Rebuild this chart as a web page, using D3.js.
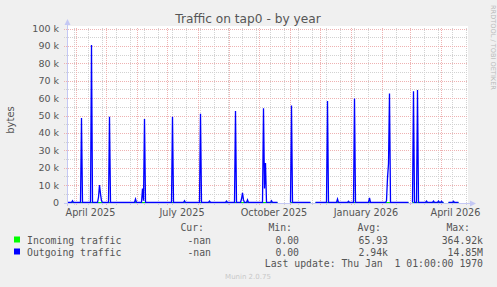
<!DOCTYPE html>
<meta charset="utf-8">
<script src="https://d3js.org/d3.v7.min.js"></script>
<style>
  body { margin: 0; background: #f0f0f0; }
  text { font-family: "DejaVu Sans", sans-serif; fill: #555; }
  .mono { font-family: "DejaVu Sans Mono", monospace; white-space: pre; }
</style>
<div id="chart"></div>
<script>
// outgoing traffic (bytes), one vertex per listed day, null = no data
var outDates = ["2025-03-24","2025-03-28","2025-03-29","2025-03-30","2025-04-06","2025-04-07","2025-04-08",
  "2025-04-16","2025-04-17","2025-04-18","2025-04-23","2025-04-24","2025-04-25","2025-04-26","2025-04-27","2025-04-28",
  "2025-05-04","2025-05-05","2025-05-06","2025-05-30","2025-05-31","2025-06-01",
  "2025-06-06","2025-06-07","2025-06-08","2025-06-09","2025-06-10","2025-07-06","2025-07-07","2025-07-08",
  "2025-07-18","2025-07-19","2025-07-20","2025-08-03","2025-08-04","2025-08-05","2025-08-12","2025-08-13","2025-08-14",
  "2025-08-29","2025-08-30","2025-08-31","2025-09-07","2025-09-08","2025-09-09",
  "2025-09-13","2025-09-14","2025-09-15","2025-09-16","2025-09-17","2025-09-19","2025-09-20","2025-09-21",
  "2025-10-05","2025-10-06","2025-10-07","2025-10-08","2025-10-09","2025-10-13","2025-10-14","2025-10-15",
  "2025-10-20","2025-10-21","2025-11-01","2025-11-02","2025-11-03","2025-11-04",
  "2025-11-22","2025-11-23","2025-11-26","2025-11-27","2025-12-08","2025-12-09","2025-12-10",
  "2025-12-18","2025-12-19","2025-12-20","2025-12-29","2025-12-30","2025-12-31",
  "2026-01-04","2026-01-05","2026-01-06","2026-01-19","2026-01-20","2026-01-21",
  "2026-02-05","2026-02-06","2026-02-07","2026-02-08","2026-02-09","2026-02-10",
  "2026-02-28","2026-03-01","2026-03-03","2026-03-04","2026-03-05","2026-03-06","2026-03-08","2026-03-09","2026-03-10",
  "2026-03-17","2026-03-18","2026-03-19","2026-03-24","2026-03-25","2026-03-26",
  "2026-03-29","2026-03-30","2026-03-31","2026-04-01","2026-04-02","2026-04-03",
  "2026-04-04","2026-04-05","2026-04-08","2026-04-09","2026-04-13","2026-04-14","2026-04-15","2026-04-19","2026-04-20"];
var outValues = [0,0,1000,0,0,48500,0,
  0,90500,0,0,3000,10000,5000,1000,0,
  0,49300,0,0,2000,0,
  0,8000,1000,48000,0,0,49300,0,
  0,1000,0,0,51000,0,0,800,0,
  0,800,0,0,52600,0,
  0,2000,5500,1500,0,0,1500,0,
  0,54100,8000,22700,0,0,1000,0,
  0,null,null,0,55800,0,
  0,null,null,0,0,58300,0,
  0,2000,0,0,700,0,
  0,59800,0,0,2700,0,
  0,1000,14000,22300,62700,0,
  0,null,null,0,64000,0,0,64600,0,
  0,800,0,0,800,0,
  0,800,0,0,700,0,
  0,null,null,0,0,700,0,0,null];

// incoming traffic (bytes): stays at the floor, with the same holes
var inDates = ["2025-03-24","2025-10-20","2025-10-21","2025-11-01","2025-11-02","2025-11-22","2025-11-23",
  "2025-11-26","2025-11-27","2026-02-28","2026-03-01","2026-03-03","2026-03-04","2026-04-04","2026-04-05",
  "2026-04-08","2026-04-09","2026-04-19","2026-04-20"];
var inValues = [0,0,null,null,0,0,null,null,0,0,null,null,0,0,null,null,0,0,null];

var yTicks = [0,10000,20000,30000,40000,50000,60000,70000,80000,90000,100000];
var yTickLabels = ["0","10 k","20 k","30 k","40 k","50 k","60 k","70 k","80 k","90 k","100 k"];
var xLabelMonths = ["2025-04-01","2025-07-01","2025-10-01","2026-01-01","2026-04-01"];

var seriesNames = ["Incoming traffic","Outgoing traffic"];
var seriesColors = ["#00ff00","#0000ff"];
var curValues = ["-nan","-nan"];
var minValues = ["0.00","0.00"];
var avgValues = ["65.93","2.94k"];
var maxValues = ["364.92k","14.85M"];

var width = 497, height = 287;
var pL = 67, pR = 468, pT = 28, pB = 203;

var svg = d3.select("#chart").append("svg")
  .attr("width", width).attr("height", height)
  .style("display", "block");

svg.append("rect").attr("width", width).attr("height", height).attr("fill", "#f0f0f0");

var x = d3.scaleUtc()
  .domain([new Date("2025-03-24"), new Date("2026-04-28")])
  .range([67.5, 467.5]);
var y = d3.scaleLinear().domain([0, 100000]).range([pB - 0.5, pT + 0.5]);

svg.append("rect").attr("x", pL).attr("y", pT - 2).attr("width", pR - pL).attr("height", pB - pT + 2)
  .attr("fill", "#fff");

var minorColor = "#d2d2d2", majorColor = "#eeb2b2";

// minor grid: horizontal every 5k, vertical every second Monday
var minorY = d3.range(5000, 100000, 10000);
svg.selectAll(".hmin").data(minorY).enter().append("line")
  .attr("x1", pL - 3).attr("x2", pR)
  .attr("y1", function(d) { return Math.round(y(d)) + 0.5; })
  .attr("y2", function(d) { return Math.round(y(d)) + 0.5; })
  .attr("stroke", minorColor).attr("stroke-dasharray", "1,1");

var mondays = d3.utcMonday.range(x.domain()[0], x.domain()[1]).filter(function(d, i) { return i % 2 === 1; });
svg.selectAll(".vmin").data(mondays).enter().append("line")
  .attr("x1", function(d) { return Math.round(x(d) - 0.5) + 0.5; })
  .attr("x2", function(d) { return Math.round(x(d) - 0.5) + 0.5; })
  .attr("y1", pT).attr("y2", pB + 3)
  .attr("stroke", minorColor).attr("stroke-dasharray", "1,1");

// major grid
svg.selectAll(".hmaj").data(yTicks).enter().append("line")
  .attr("x1", pL - 3).attr("x2", pR)
  .attr("y1", function(d) { return Math.round(y(d)) + 0.5; })
  .attr("y2", function(d) { return Math.round(y(d)) + 0.5; })
  .attr("stroke", majorColor).attr("stroke-dasharray", "1,1");

var months = d3.utcMonth.range(x.domain()[0], x.domain()[1]);
svg.selectAll(".vmaj").data(months).enter().append("line")
  .attr("x1", function(d) { return Math.round(x(d)) + 0.5; })
  .attr("x2", function(d) { return Math.round(x(d)) + 0.5; })
  .attr("y1", pT).attr("y2", pB + 3)
  .attr("stroke", majorColor).attr("stroke-dasharray", "1,1");

// data lines
function toPoints(dates, values) {
  return dates.map(function(d, i) { return { date: new Date(d), value: values[i] }; });
}
var line = d3.line()
  .defined(function(d) { return d.value !== null; })
  .x(function(d) { return x(d.date); })
  .y(function(d) { return y(d.value); });

svg.append("path").datum(toPoints(inDates, inValues))
  .attr("d", line).attr("fill", "none").attr("stroke", seriesColors[0]).attr("stroke-width", 1.2);
svg.append("path").datum(toPoints(outDates, outValues))
  .attr("d", line).attr("fill", "none").attr("stroke", seriesColors[1]).attr("stroke-width", 1.3);

// axes with arrows
var axisColor = "#c4c8f4";
svg.append("line").attr("x1", pL + 0.5).attr("x2", pL + 0.5).attr("y1", pB + 3).attr("y2", 24)
  .attr("stroke", axisColor);
svg.append("path").attr("d", "M" + (pL - 2.5) + ",25L" + (pL + 3.5) + ",25L" + (pL + 0.5) + ",19Z")
  .attr("fill", axisColor);
svg.append("line").attr("x1", pL - 3).attr("x2", pR + 3).attr("y1", pB + 0.5).attr("y2", pB + 0.5)
  .attr("stroke", axisColor);
svg.append("path").attr("d", "M" + (pR + 2) + "," + (pB - 2.5) + "L" + (pR + 2) + "," + (pB + 3.5) +
    "L" + (pR + 8) + "," + (pB + 0.5) + "Z")
  .attr("fill", axisColor);

// y tick labels
svg.selectAll(".ylab").data(yTicks).enter().append("text")
  .attr("x", 59).attr("y", function(d) { return y(d); }).attr("dy", "0.36em")
  .attr("text-anchor", "end").style("font-size", "9.5px")
  .text(function(d, i) { return yTickLabels[i]; });

// x labels centred on the middle of the month
var fmt = d3.utcFormat("%B %Y");
svg.selectAll(".xlab").data(xLabelMonths).enter().append("text")
  .attr("x", function(d) {
    var a = new Date(d), b = d3.utcMonth.offset(a, 1);
    return (x(a) + x(b)) / 2;
  })
  .attr("y", 216).attr("text-anchor", "middle").style("font-size", "9.7px")
  .text(function(d) { return fmt(new Date(d)); });

// title and side labels
svg.append("text").attr("x", 248).attr("y", 23).attr("text-anchor", "middle")
  .style("font-size", "12.2px").text("Traffic on tap0 - by year");
svg.append("text").attr("transform", "translate(14,120) rotate(-90)").attr("text-anchor", "middle")
  .style("font-size", "10px").text("bytes");
svg.append("text").attr("transform", "translate(491,5) rotate(90)")
  .style("font-size", "6.6px").style("fill", "#bbb").text("RRDTOOL / TOBI OETIKER");

// legend
var lf = "9.8px";
var headers = [["Cur:", 204], ["Min:", 292], ["Avg:", 381], ["Max:", 470]];
svg.selectAll(".hdr").data(headers).enter().append("text").attr("class", "mono")
  .attr("x", function(d) { return d[1]; }).attr("y", 231).attr("text-anchor", "end")
  .style("font-size", lf).text(function(d) { return d[0]; });

seriesNames.forEach(function(name, i) {
  var yy = 243.5 + i * 12;
  svg.append("rect").attr("x", 14).attr("y", yy - 7).attr("width", 6).attr("height", 6)
    .attr("fill", seriesColors[i]);
  svg.append("text").attr("class", "mono").attr("x", 27).attr("y", yy).style("font-size", lf).text(name);
  [[curValues[i], 211], [minValues[i], 299], [avgValues[i], 388], [maxValues[i], 483]].forEach(function(v) {
    svg.append("text").attr("class", "mono").attr("x", v[1]).attr("y", yy).attr("text-anchor", "end")
      .style("font-size", lf).text(v[0]);
  });
});

svg.append("text").attr("class", "mono").attr("x", 483).attr("y", 267).attr("text-anchor", "end")
  .style("font-size", lf).text("Last update: Thu Jan  1 01:00:00 1970");
svg.append("text").attr("x", 248).attr("y", 279).attr("text-anchor", "middle")
  .style("font-size", "7px").style("fill", "#c8c8c8").text("Munin 2.0.75");
</script>
